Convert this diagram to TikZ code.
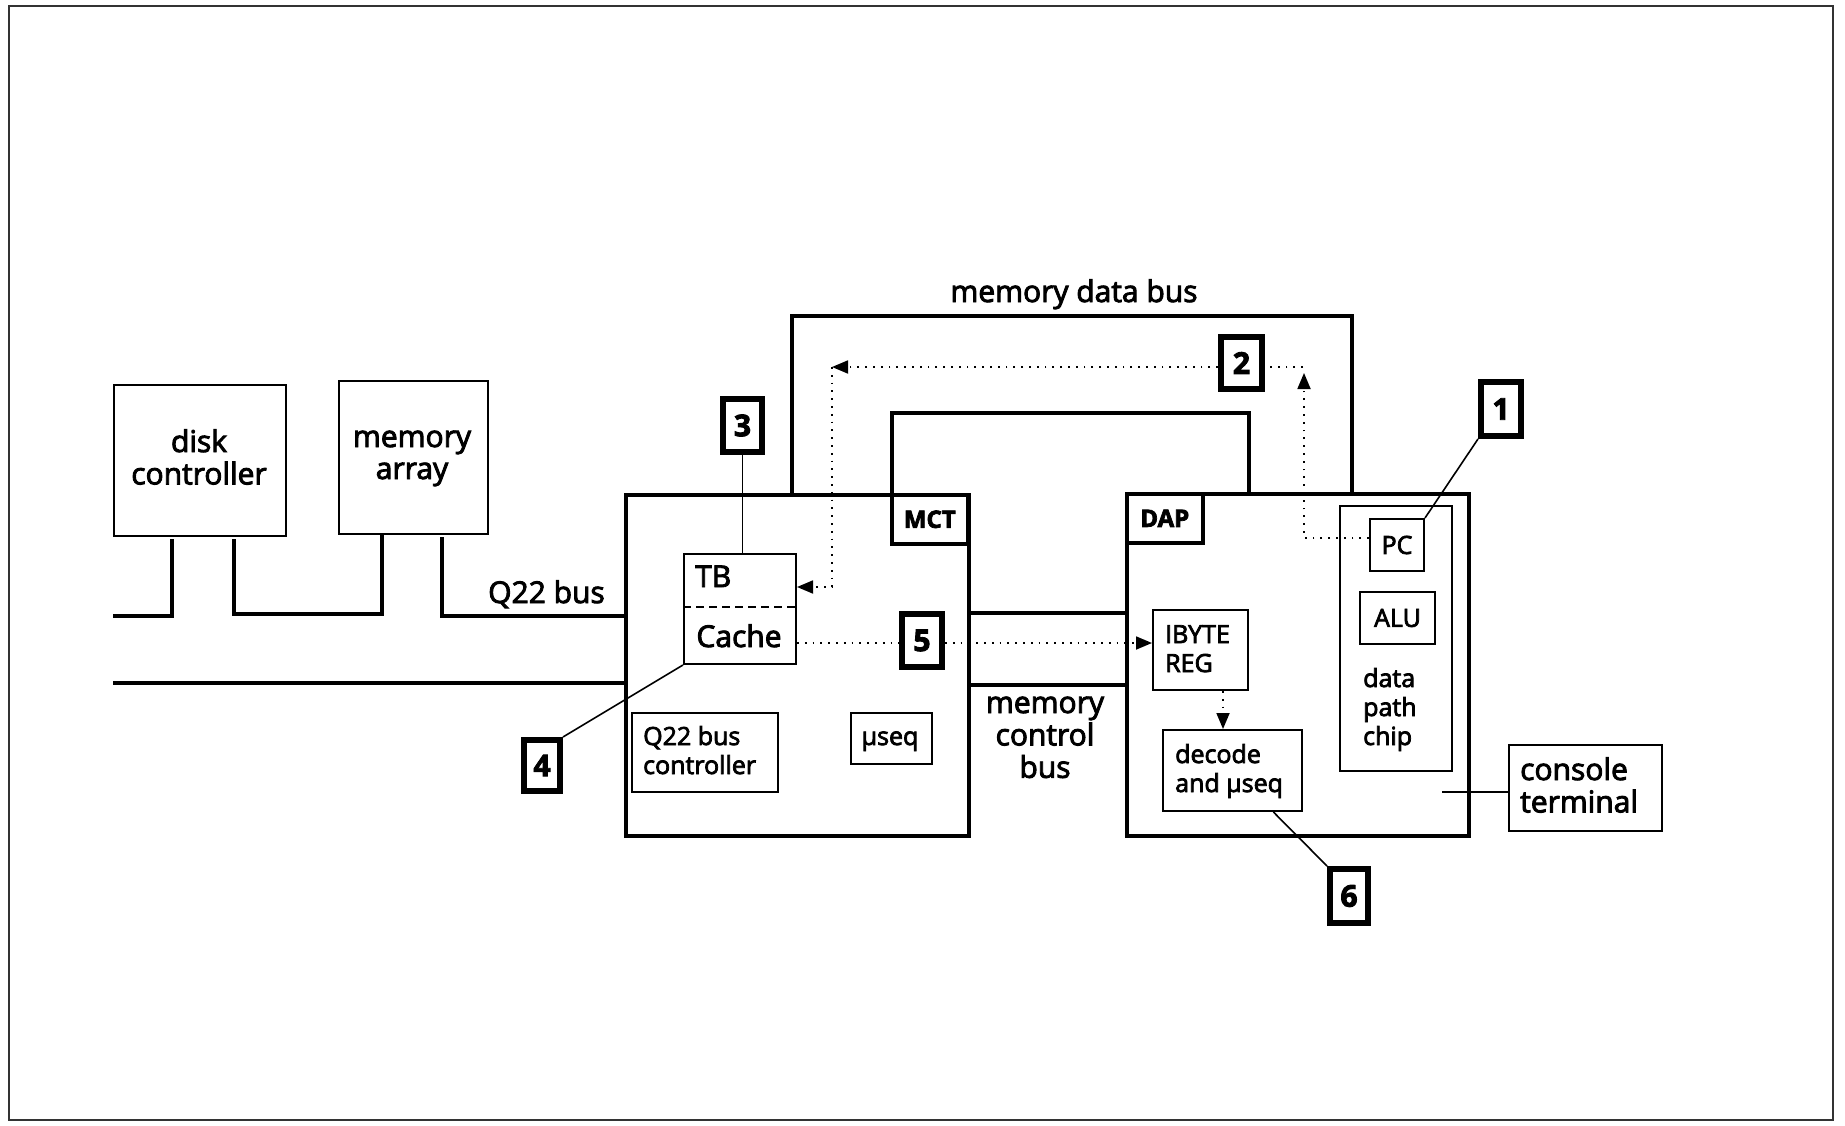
\documentclass[tikz,border=0pt]{standalone}
\usepackage{fontspec}
\setmainfont{Open Sans}[RawFeature={embolden=3}]
\usetikzlibrary{arrows.meta,calc}
\begin{document}
\begin{tikzpicture}[x=1pt,y=-1pt,
  box/.style={draw, line width=2pt, inner sep=0pt, anchor=north west},
  unit/.style={draw, line width=3.6pt, inner sep=0pt, anchor=north west, font=\fontsize{24}{28}\selectfont\bfseries},
  callout/.style={draw, line width=6pt, inner sep=0pt, anchor=north west, font=\fontsize{30}{32}\selectfont\bfseries},
  bus/.style={line width=4pt},
  thinline/.style={line width=1.6pt},
  dots/.style={line width=1.8pt, dash pattern=on 1.8pt off 6pt},
  tip/.style={-{Triangle[length=16pt,width=13pt]}},
  bigt/.style={inner sep=0pt, anchor=base, font=\fontsize{30}{32}\selectfont},
  smallt/.style={inner sep=0pt, anchor=base, font=\fontsize{25}{29}\selectfont}
]
\useasboundingbox (0,0) rectangle (1845,1126);
\draw[line width=1.5pt, black!80] (9,6) rectangle (1833,1120);

% outer boxes
\node[box, minimum width=172pt, minimum height=151pt] (dc) at (113,384) {};
\node[box, minimum width=149pt, minimum height=153pt] (ma) at (338,380) {};
\node[unit, minimum width=343pt, minimum height=341pt] (mct) at (624,493) {};
\node[unit, minimum width=342pt, minimum height=342pt] (dap) at (1125,492) {};
\node[unit, minimum width=76pt, minimum height=49pt] (mctl) at (890,493) {MCT};
\node[unit, minimum width=76pt, minimum height=49pt] (dapl) at (1125,492) {DAP};

% inner boxes
\node[box, minimum width=112pt, minimum height=110pt] (tbc) at (683,553) {};
\node[box, minimum width=146pt, minimum height=79pt] (qbc) at (631,712) {};
\node[box, minimum width=81pt, minimum height=51pt] (useq) at (850,712) {};
\node[box, minimum width=95pt, minimum height=80pt] (ib) at (1152,609) {};
\node[box, minimum width=139pt, minimum height=81pt] (dec) at (1162,729) {};
\node[box, minimum width=112pt, minimum height=265pt] (dpc) at (1339,505) {};
\node[box, minimum width=54pt, minimum height=52pt, font=\fontsize{25}{29}\selectfont] (pc) at (1369,518) {PC};
\node[box, minimum width=75pt, minimum height=52pt, font=\fontsize{25}{29}\selectfont] (alu) at (1359,591) {ALU};
\node[box, minimum width=153pt, minimum height=86pt] (con) at (1508,744) {};

% callouts
\node[callout, minimum width=40pt, minimum height=54pt] (c1) at (1478,379) {1};
\node[callout, minimum width=41pt, minimum height=52pt] (c2) at (1218,334) {2};
\node[callout, minimum width=39pt, minimum height=53pt] (c3) at (720,396) {3};
\node[callout, minimum width=36pt, minimum height=51pt] (c4) at (521,737) {4};
\node[callout, minimum width=40pt, minimum height=53pt] (c5) at (899,611) {5};
\node[callout, minimum width=38pt, minimum height=54pt] (c6) at (1327,866) {6};

% texts
\node[bigt] (tdc) at (199,452) {\begin{tabular}[t]{@{}c@{}}disk\\controller\end{tabular}};
\node[bigt] (tma) at (412,447) {\begin{tabular}[t]{@{}c@{}}memory\\array\end{tabular}};
\node[bigt, anchor=base west] (tq22) at (488,603) {Q22 bus};
\node[bigt] (tmdb) at (1074,302) {memory data bus};
\node[bigt, anchor=base west] (ttb) at (695,587) {TB};
\node[bigt] (tcache) at (739,647) {Cache};
\node[smallt, anchor=base west] (tqbc) at (643,745) {\begin{tabular}[t]{@{}l@{}}Q22 bus\\controller\end{tabular}};
\node[smallt] (tuseq) at (890,745) {µseq};
\node[bigt] (tmcb) at (1045,713) {\begin{tabular}[t]{@{}c@{}}memory\\control\\bus\end{tabular}};
\node[smallt, anchor=base west] (tib) at (1165,643) {\begin{tabular}[t]{@{}l@{}}IBYTE\\REG\end{tabular}};
\node[smallt, anchor=base west] (tdec) at (1175,763) {\begin{tabular}[t]{@{}l@{}}decode\\and µseq\end{tabular}};
\node[smallt, anchor=base west] (tdpc) at (1363,687) {\begin{tabular}[t]{@{}l@{}}data\\path\\chip\end{tabular}};
\node[bigt, anchor=base west] (tcon) at (1520,780) {\begin{tabular}[t]{@{}l@{}}console\\terminal\end{tabular}};

% Q22 bus lines
\coordinate (qL1) at (113,616);
\coordinate (dcA) at (172,539);
\coordinate (dcB) at (234,539);
\coordinate (maA) at (382,614);
\coordinate (maB) at (442,537);
\coordinate (qbus) at (0,616);
\coordinate (qL2) at (113,683);
\draw[bus] (qL1) -| (dcA);
\draw[bus] (dcB) |- (maA) -- (maA |- ma.south);
\draw[bus] (maB) |- (qbus -| mct.west);
\draw[bus] (qL2) -- (qL2 -| mct.west);

% memory data bus and inner bus
\coordinate (mdb1) at (792,316);
\coordinate (mdb2) at (1352,316);
\draw[bus] (mdb1 |- mct.north) -- (mdb1) -- (mdb2) -- (mdb2 |- dap.north);
\coordinate (ib1) at (892,413);
\coordinate (ib2) at (1249,413);
\draw[bus] (ib1 |- mct.north) -- (ib1) -- (ib2) -- (ib2 |- dap.north);

% memory control bus
\coordinate (mcb1) at (0,613);
\coordinate (mcb2) at (0,685);
\draw[bus] (mcb1 -| mct.east) -- (mcb1 -| dap.west);
\draw[bus] (mcb2 -| mct.east) -- (mcb2 -| dap.west);

% TB / Cache divider
\coordinate (tbd) at (0,607);
\draw[line width=1.6pt, dash pattern=on 8pt off 5pt] (tbd -| tbc.west) -- (tbd -| tbc.east);

% callout leader lines
\draw[thinline] (c3.south) -- (c3.south |- tbc.north);
\draw[thinline] (tbc.south west) -- (c4.north east);
\draw[thinline] (pc.north east) -- (c1.south west);
\draw[thinline] ($(dec.south west)!0.79!(dec.south east)$) -- (c6.north west);
\coordinate (ctl) at (1442,792);
\draw[thinline] (ctl) -- (ctl -| con.west);

% dotted data flow
\coordinate (up) at (1304,373);
\draw[dots, tip] ($(pc.north west)!0.37!(pc.south west)$) -| (up);
\coordinate (tr) at (1303,367);
\coordinate (tl) at (832,367);
\draw[dots] (tr) -- (tr -| c2.east);
\draw[dots, tip] (tr -| c2.west) -- (tl);
\coordinate (tbin) at (0,587);
\draw[dots, tip] (tl) |- (tbin -| tbc.east);
\coordinate (cy) at (0,643);
\draw[dots] (cy -| tbc.east) -- (cy -| c5.west);
\draw[dots, tip] (cy -| c5.east) -- (cy -| ib.west);
\coordinate (idx) at (1223,0);
\draw[dots, tip] (idx |- ib.south) -- (idx |- dec.north);
\end{tikzpicture}
\end{document}
